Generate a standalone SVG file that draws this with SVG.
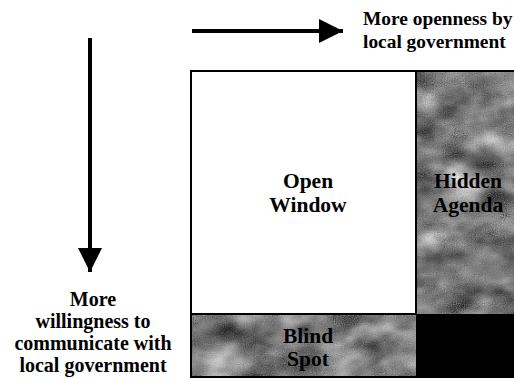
<svg xmlns="http://www.w3.org/2000/svg" width="514" height="379" viewBox="0 0 514 379">
<style>
.ax{stroke:#000;stroke-width:4;fill:none;}
</style>
<defs>
<filter id="mottle" x="0" y="0" width="100%" height="100%" color-interpolation-filters="sRGB">
<feTurbulence type="fractalNoise" baseFrequency="0.025 0.04" numOctaves="3" seed="7" result="n1"/>
<feTurbulence type="fractalNoise" baseFrequency="0.9" numOctaves="1" seed="3" result="n2"/>
<feComposite in="n1" in2="n2" operator="arithmetic" k1="0" k2="0.8" k3="0.25" k4="-0.05" result="n"/>
<feColorMatrix in="n" type="matrix" values="0.33 0.33 0.33 0 0  0.33 0.33 0.33 0 0  0.33 0.33 0.33 0 0  0 0 0 0 1" result="g"/>
<feComponentTransfer in="g">
<feFuncR type="linear" slope="1.6" intercept="-0.22"/>
<feFuncG type="linear" slope="1.6" intercept="-0.22"/>
<feFuncB type="linear" slope="1.6" intercept="-0.22"/>
</feComponentTransfer>
</filter>
<marker id="ah" viewBox="0 0 10 10" refX="10" refY="5" markerWidth="7" markerHeight="6" markerUnits="strokeWidth" orient="auto">
<path d="M0,0 L10,5 L0,10 Z" fill="#000"/>
</marker>
</defs>
<g id="connectors">
<line class="ax" x1="192" y1="31" x2="343" y2="31" marker-end="url(#ah)"/>
<line class="ax" x1="90" y1="38" x2="90" y2="272" marker-end="url(#ah)"/>
</g>
<g id="label-openness" font-family="Liberation Serif" font-weight="bold" font-size="19.4">
<text x="363" y="25" style="font-family:'Liberation Serif',serif">More openness by</text>
<text x="363" y="48" style="font-family:'Liberation Serif',serif">local government</text>
</g>
<g id="label-willingness" font-family="Liberation Serif" font-weight="bold" font-size="20" text-anchor="middle">
<text x="93" y="306" style="font-family:'Liberation Serif',serif">More</text>
<text x="93" y="328" style="font-family:'Liberation Serif',serif">willingness to</text>
<text x="93" y="350" style="font-family:'Liberation Serif',serif">communicate with</text>
<text x="93" y="372" style="font-family:'Liberation Serif',serif">local government</text>
</g>
<g id="hidden-agenda">
<rect x="416" y="70" width="98" height="244" fill="#888" filter="url(#mottle)"/>
<g font-family="Liberation Serif" font-weight="bold" font-size="21.5" text-anchor="middle">
<text x="468" y="188" style="font-family:'Liberation Serif',serif">Hidden</text>
<text x="468" y="212" style="font-family:'Liberation Serif',serif">Agenda</text>
</g>
</g>
<g id="blind-spot">
<rect x="191" y="314" width="225" height="63" fill="#888" filter="url(#mottle)"/>
<g font-family="Liberation Serif" font-weight="bold" font-size="21.5" text-anchor="middle">
<text x="308" y="343" style="font-family:'Liberation Serif',serif">Blind</text>
<text x="308" y="366" style="font-family:'Liberation Serif',serif">Spot</text>
</g>
</g>
<g id="unknown">
<rect x="416" y="314" width="98" height="63" fill="#000"/>
</g>
<g id="open-window">
<rect x="191" y="71" width="225" height="243" fill="#fff" stroke="#000" stroke-width="2"/>
<g font-family="Liberation Serif" font-weight="bold" font-size="21.5" text-anchor="middle">
<text x="308" y="188" style="font-family:'Liberation Serif',serif">Open</text>
<text x="308" y="212" style="font-family:'Liberation Serif',serif">Window</text>
</g>
</g>
<rect x="191" y="71" width="324" height="306" fill="none" stroke="#000" stroke-width="2"/>
</svg>
